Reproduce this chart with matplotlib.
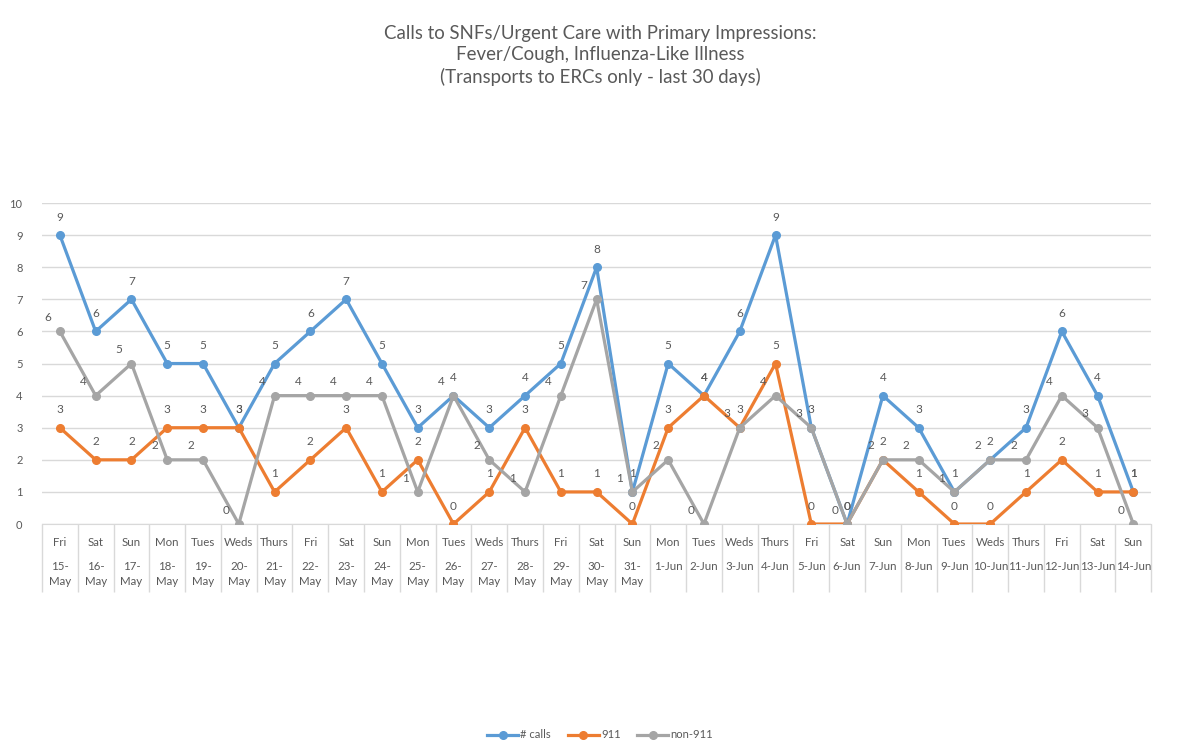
import numpy as np
import matplotlib.pyplot as plt
from matplotlib import transforms

# data
days = ["Fri", "Sat", "Sun", "Mon", "Tues", "Weds", "Thurs", "Fri", "Sat", "Sun", "Mon",
        "Tues", "Weds", "Thurs", "Fri", "Sat", "Sun", "Mon", "Tues", "Weds", "Thurs", "Fri",
        "Sat", "Sun", "Mon", "Tues", "Weds", "Thurs", "Fri", "Sat", "Sun"]
dates = ["15-\nMay", "16-\nMay", "17-\nMay", "18-\nMay", "19-\nMay", "20-\nMay", "21-\nMay",
         "22-\nMay", "23-\nMay", "24-\nMay", "25-\nMay", "26-\nMay", "27-\nMay", "28-\nMay",
         "29-\nMay", "30-\nMay", "31-\nMay", "1-Jun", "2-Jun", "3-Jun", "4-Jun", "5-Jun",
         "6-Jun", "7-Jun", "8-Jun", "9-Jun", "10-Jun", "11-Jun", "12-Jun", "13-Jun", "14-Jun"]
calls = [9, 6, 7, 5, 5, 3, 5, 6, 7, 5, 3, 4, 3, 4, 5, 8, 1, 5, 4, 6, 9, 3, 0, 4, 3, 1, 2, 3, 6, 4, 1]
calls_911 = [3, 2, 2, 3, 3, 3, 1, 2, 3, 1, 2, 0, 1, 3, 1, 1, 0, 3, 4, 3, 5, 0, 0, 2, 1, 0, 0, 1, 2, 1, 1]
non_911 = [6, 4, 5, 2, 2, 0, 4, 4, 4, 4, 1, 4, 2, 1, 4, 7, 1, 2, 0, 3, 4, 3, 0, 2, 2, 1, 2, 2, 4, 3, 0]

TXT = "#595959"
plt.rcParams['font.family'] = ['Lato', 'DejaVu Sans']

fig = plt.figure(figsize=(11.93, 7.5), dpi=100)
ax = fig.add_axes([0.0352, 0.3013, 0.9298, 0.428])

x = np.arange(len(days))
series = [("# calls", calls, "#5B9BD5", (0, 9)),
          ("911", calls_911, "#ED7D31", (0, 9)),
          ("non-911", non_911, "#A5A5A5", (-9, 6))]
for name, vals, col, off in series:
    ax.plot(x, vals, color=col, lw=2.3, marker="o", ms=5.5, label=name, zorder=3)
    for xi, v in zip(x, vals):
        ax.annotate(str(v), (xi, v), xytext=off, textcoords="offset points",
                    ha="center", va="bottom", fontsize=8.5, color=TXT, zorder=4)

ax.set_xlim(-0.5, len(days) - 0.5)
ax.set_ylim(0, 10)
ax.set_yticks(range(0, 11))
ax.grid(axis="y", color="#D9D9D9", lw=1)
ax.set_axisbelow(True)
for s in ["top", "right", "left"]:
    ax.spines[s].set_visible(False)
ax.spines["bottom"].set_color("#D9D9D9")
ax.tick_params(axis="y", length=0, labelsize=8, labelcolor=TXT, pad=14)

# category table under the axis
ax.set_xticks([])
ax.set_xticks(np.arange(-0.5, len(days)), minor=True)
ax.tick_params(axis="x", which="minor", length=49, color="#D9D9D9", width=1)
tr = transforms.blended_transform_factory(ax.transData, ax.transAxes)
for xi, d, dt in zip(x, days, dates):
    ax.text(xi, -0.04, d, transform=tr, ha="center", va="top", fontsize=8.3, color=TXT)
    ax.text(xi, -0.115, dt, transform=tr, ha="center", va="top", fontsize=8.3,
            color=TXT, linespacing=1.5)

fig.text(0.503, 0.967, "Calls to SNFs/Urgent Care with Primary Impressions:\n"
         "Fever/Cough, Influenza-Like Illness\n(Transports to ERCs only - last 30 days)",
         ha="center", va="top", fontsize=13.4, color=TXT, linespacing=1.3)

fig.legend(loc="center", bbox_to_anchor=(0.503, 0.02), ncol=3, frameon=False,
           fontsize=8, labelcolor=TXT, handlelength=2.8, columnspacing=1.5, handletextpad=0.2)

fig.savefig("out.png", dpi=100)
